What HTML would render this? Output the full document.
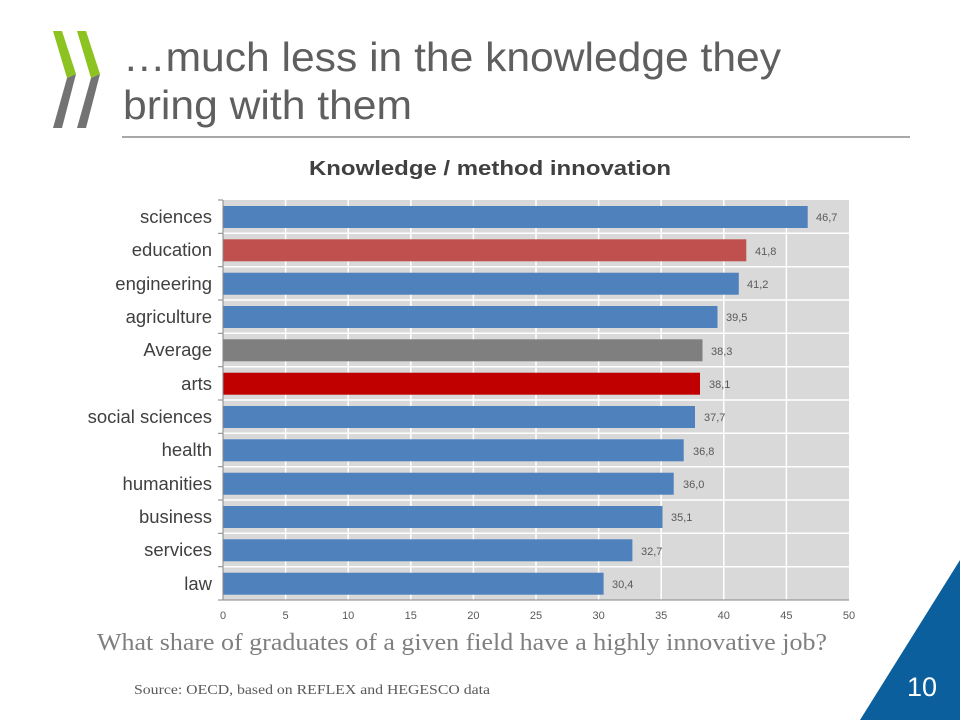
<!DOCTYPE html>
<html><head><meta charset="utf-8"><style>
body{margin:0;width:960px;height:720px;background:#fff;overflow:hidden;font-family:"Liberation Sans",sans-serif}
</style></head><body>
<svg width="960" height="720" xmlns="http://www.w3.org/2000/svg" font-family="Liberation Sans, sans-serif">
<g>
<polygon points="53,31 62,31 76,74 67,78" fill="#8cc320"/>
<polygon points="67,78 76,74 62,128 53,128" fill="#737373"/>
<polygon points="77,31 86,31 100,74 91,78" fill="#8cc320"/>
<polygon points="91,78 100,74 86,128 77,128" fill="#737373"/>
</g>
<text x="123" y="71" font-size="41" fill="#5f5f5f" textLength="658" lengthAdjust="spacingAndGlyphs">…much less in the knowledge they</text>
<text x="123" y="119" font-size="41" fill="#5f5f5f" textLength="289" lengthAdjust="spacingAndGlyphs">bring with them</text>
<line x1="122" y1="137" x2="910" y2="137" stroke="#8c8c8c" stroke-width="1.5"/>
<text x="490" y="175" font-size="20" font-weight="bold" text-anchor="middle" fill="#404040" textLength="362" lengthAdjust="spacingAndGlyphs">Knowledge / method innovation</text>
<rect x="223" y="200" width="626" height="400" fill="#d9d9d9"/>
<g stroke="#fff" stroke-width="1.5">
<line x1="285.6" y1="200" x2="285.6" y2="600"/><line x1="348.2" y1="200" x2="348.2" y2="600"/><line x1="410.8" y1="200" x2="410.8" y2="600"/><line x1="473.4" y1="200" x2="473.4" y2="600"/><line x1="536" y1="200" x2="536" y2="600"/><line x1="598.6" y1="200" x2="598.6" y2="600"/><line x1="661.2" y1="200" x2="661.2" y2="600"/><line x1="723.8" y1="200" x2="723.8" y2="600"/><line x1="786.4" y1="200" x2="786.4" y2="600"/>
<line x1="223" y1="233.3" x2="849" y2="233.3"/><line x1="223" y1="266.7" x2="849" y2="266.7"/><line x1="223" y1="300" x2="849" y2="300"/><line x1="223" y1="333.3" x2="849" y2="333.3"/><line x1="223" y1="366.7" x2="849" y2="366.7"/><line x1="223" y1="400" x2="849" y2="400"/><line x1="223" y1="433.3" x2="849" y2="433.3"/><line x1="223" y1="466.7" x2="849" y2="466.7"/><line x1="223" y1="500" x2="849" y2="500"/><line x1="223" y1="533.3" x2="849" y2="533.3"/><line x1="223" y1="566.7" x2="849" y2="566.7"/>
</g>
<g>
<rect x="223" y="206" width="584.7" height="22" fill="#4f81bd"/>
<rect x="223" y="239.3" width="523.3" height="22" fill="#c0504d"/>
<rect x="223" y="272.7" width="515.8" height="22" fill="#4f81bd"/>
<rect x="223" y="306" width="494.5" height="22" fill="#4f81bd"/>
<rect x="223" y="339.3" width="479.5" height="22" fill="#7f7f7f"/>
<rect x="223" y="372.7" width="477" height="22" fill="#c00000"/>
<rect x="223" y="406" width="472" height="22" fill="#4f81bd"/>
<rect x="223" y="439.3" width="460.7" height="22" fill="#4f81bd"/>
<rect x="223" y="472.7" width="450.7" height="22" fill="#4f81bd"/>
<rect x="223" y="506" width="439.5" height="22" fill="#4f81bd"/>
<rect x="223" y="539.3" width="409.4" height="22" fill="#4f81bd"/>
<rect x="223" y="572.7" width="380.6" height="22" fill="#4f81bd"/>
</g>
<g font-size="11" fill="#595959">
<text x="816" y="221">46,7</text><text x="755" y="255">41,8</text><text x="747" y="288">41,2</text><text x="726" y="321">39,5</text><text x="711" y="355">38,3</text><text x="709" y="388">38,1</text><text x="704" y="421">37,7</text><text x="693" y="455">36,8</text><text x="683" y="488">36,0</text><text x="671" y="521">35,1</text><text x="641" y="555">32,7</text><text x="612" y="588">30,4</text>
</g>
<g font-size="18.5" fill="#404040" text-anchor="end">
<text x="212" y="223">sciences</text><text x="212" y="256">education</text><text x="212" y="290">engineering</text><text x="212" y="323">agriculture</text><text x="212" y="356">Average</text><text x="212" y="390">arts</text><text x="212" y="423">social sciences</text><text x="212" y="456">health</text><text x="212" y="490">humanities</text><text x="212" y="523">business</text><text x="212" y="556">services</text><text x="212" y="590">law</text>
</g>
<line x1="223" y1="200" x2="223" y2="600" stroke="#868686"/>
<line x1="223" y1="600" x2="849" y2="600" stroke="#868686"/>
<g stroke="#868686"><line x1="218" y1="200" x2="223" y2="200"/><line x1="218" y1="233.3" x2="223" y2="233.3"/><line x1="218" y1="266.7" x2="223" y2="266.7"/><line x1="218" y1="300" x2="223" y2="300"/><line x1="218" y1="333.3" x2="223" y2="333.3"/><line x1="218" y1="366.7" x2="223" y2="366.7"/><line x1="218" y1="400" x2="223" y2="400"/><line x1="218" y1="433.3" x2="223" y2="433.3"/><line x1="218" y1="466.7" x2="223" y2="466.7"/><line x1="218" y1="500" x2="223" y2="500"/><line x1="218" y1="533.3" x2="223" y2="533.3"/><line x1="218" y1="566.7" x2="223" y2="566.7"/><line x1="218" y1="600" x2="223" y2="600"/></g>
<g font-size="11" fill="#595959" text-anchor="middle">
<text x="223" y="619">0</text><text x="285.6" y="619">5</text><text x="348.2" y="619">10</text><text x="410.8" y="619">15</text><text x="473.4" y="619">20</text><text x="536" y="619">25</text><text x="598.6" y="619">30</text><text x="661.2" y="619">35</text><text x="723.8" y="619">40</text><text x="786.4" y="619">45</text><text x="849" y="619">50</text>
</g>
<text x="97" y="650" font-family="Liberation Serif, serif" font-size="24" fill="#7f7f7f" textLength="730" lengthAdjust="spacingAndGlyphs">What share of graduates of a given field have a highly innovative job?</text>
<text x="134" y="694" font-family="Liberation Serif, serif" font-size="14" fill="#595959" textLength="356" lengthAdjust="spacingAndGlyphs">Source: OECD, based on REFLEX and HEGESCO data</text>
<polygon points="960,560 960,720 860,720" fill="#0a5f9c"/>
<text x="922" y="696" font-size="27" fill="#fff" text-anchor="middle">10</text>
</svg>
</body></html>
